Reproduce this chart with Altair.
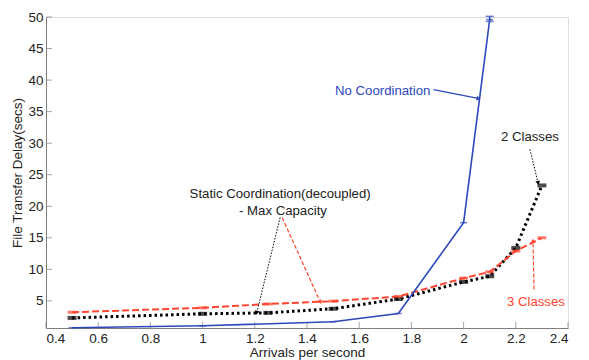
import math
import altair as alt
import pandas as pd

# ---- data ----
x_blue = [0.5, 1.0, 1.5, 1.75, 2.0, 2.1]
y_blue = [0.75, 1.05, 1.7, 3.0, 17.4, 49.6]
x_cls = [0.5, 1.0, 1.25, 1.5, 1.75, 2.0, 2.1, 2.2, 2.3]
y_two = [2.3, 2.95, 3.1, 3.75, 5.3, 8.0, 8.9, 13.4, 23.3]
y_three = [3.2, 3.9, 4.5, 4.95, 5.7, 8.6, 9.6, 12.9, 15.0]
err_x = [2.1]
err_lo = [49.3]
err_hi = [50.1]

x_ticks = [0.4, 0.6, 0.8, 1.0, 1.2, 1.4, 1.6, 1.8, 2.0, 2.2, 2.4]
y_ticks = [5, 10, 15, 20, 25, 30, 35, 40, 45, 50]

# annotations (data coords)
txt_label = ["No Coordination", "2 Classes", "Static Coordination(decoupled)", "- Max Capacity", "3 Classes"]
txt_x = [1.69, 2.254, 1.297, 1.308, 2.277]
txt_y = [38.3, 30.9, 21.9, 19.2, 4.9]
txt_group = ["blue", "black", "black", "black", "red"]

arr_x1 = [1.885, 2.254, 1.297, 1.305, 2.270]
arr_y1 = [38.5, 29.0, 18.2, 18.2, 6.8]
arr_x2 = [2.055, 2.285, 1.208, 1.45, 2.266]
arr_y2 = [37.1, 23.8, 3.2, 4.9, 14.4]
arr_group = ["blue", "black_dot", "black_dot", "red_dash", "red_dash"]

W, H = 522, 311
XD = [0.4, 2.4]
YD = [0.7, 50]
BLUE = "#2b48bb"
RED = "#ff4530"
AXC = "#7f7f7f"
FONT = "Liberation Sans"

pxx = W / (XD[1] - XD[0])
pxy = H / (YD[1] - YD[0])

xs = alt.Scale(domain=XD, nice=False, zero=False)
ys = alt.Scale(domain=YD, nice=False, zero=False)

blue_df = pd.DataFrame({"x": x_blue, "y": y_blue})
cls_df = pd.DataFrame({"x": x_cls, "two": y_two, "three": y_three})
err_df = pd.DataFrame({"x": err_x, "lo": err_lo, "hi": err_hi})
txt_df = pd.DataFrame({"label": txt_label, "x": txt_x, "y": txt_y, "g": txt_group})
arr_df = pd.DataFrame({"x1": arr_x1, "y1": arr_y1, "x2": arr_x2, "y2": arr_y2, "g": arr_group})
arr_df["angle"] = [
    (math.degrees(math.atan2((b - a) * pxx, (d - c) * pxy)) + 360) % 360
    for a, b, c, d in zip(arr_df.x1, arr_df.x2, arr_df.y1, arr_df.y2)
]

X_AX = alt.Axis(values=x_ticks, format="~g", grid=False, domainColor=AXC,
                ticks=False, labelPadding=3, labelFontSize=13.5,
                labelColor="#222", titleFontSize=13.5, titleColor="#222",
                titleFontWeight="normal", labelOverlap=False,
                titlePadding=1, labelFont=FONT, titleFont=FONT)
Y_AX = alt.Axis(values=y_ticks, grid=False, domainColor=AXC, ticks=False,
                labelPadding=3, labelFontSize=13.5, labelColor="#222",
                titleFontSize=13.5, titleColor="#222", titlePadding=3,
                titleFontWeight="normal", labelOverlap=False,
                labelFont=FONT, titleFont=FONT)


def XQ(f):
    return alt.X(f, scale=xs, axis=X_AX, title="Arrivals per second")


def YQ(f):
    return alt.Y(f, scale=ys, axis=Y_AX, title="File Transfer Delay(secs)")


base = alt.Chart(cls_df)

# inward ticks
xt = alt.Chart(pd.DataFrame({"v": x_ticks})).mark_tick(
    orient="vertical", color=AXC, size=6, thickness=1, yOffset=-3
).encode(x=XQ("v:Q"), y=alt.value(H))
yt = alt.Chart(pd.DataFrame({"v": y_ticks})).mark_tick(
    orient="horizontal", color=AXC, size=6, thickness=1, xOffset=3
).encode(y=YQ("v:Q"), x=alt.value(0))

line_two = base.mark_line(color="black", strokeWidth=3, strokeDash=[2.5, 3]).encode(
    x=XQ("x:Q"), y=YQ("two:Q"))
mk_two = base.mark_tick(color="black", orient="horizontal", size=9, thickness=4).encode(
    x=XQ("x:Q"), y=YQ("two:Q"))
line_three = base.mark_line(color=RED, strokeWidth=2, strokeDash=[7, 3]).encode(
    x=XQ("x:Q"), y=YQ("three:Q"))
mk_three = base.mark_tick(color=RED, orient="horizontal", size=9, thickness=3).encode(
    x=XQ("x:Q"), y=YQ("three:Q"))

bl = alt.Chart(blue_df)
line_blue = bl.mark_line(color=BLUE, strokeWidth=1.6).encode(
    x=XQ("x:Q"), y=YQ("y:Q"))
mk_blue = bl.mark_tick(color=BLUE, orient="horizontal", size=7, thickness=1.5).encode(
    x=XQ("x:Q"), y=YQ("y:Q"))

ec = alt.Chart(err_df)
err_rule = ec.mark_rule(color=BLUE, strokeWidth=1.5).encode(
    x=XQ("x:Q"), y=YQ("lo:Q"), y2="hi:Q")
err_cap_hi = ec.mark_tick(color=BLUE, orient="horizontal", size=8, thickness=1.5).encode(
    x=XQ("x:Q"), y=YQ("hi:Q"))
err_cap_lo = ec.mark_tick(color=BLUE, orient="horizontal", size=8, thickness=1.5).encode(
    x=XQ("x:Q"), y=YQ("lo:Q"))

ac = alt.Chart(arr_df)
arr_layers = []
styles = {
    "blue": dict(color=BLUE, strokeWidth=1.3),
    "black_dot": dict(color="black", strokeWidth=1, strokeDash=[1.5, 1.5]),
    "red_dash": dict(color=RED, strokeWidth=1.2, strokeDash=[4, 2]),
}
for g, st in styles.items():
    sub = ac.transform_filter(alt.datum.g == g)
    arr_layers.append(sub.mark_rule(**st).encode(
        x=XQ("x1:Q"), y=YQ("y1:Q"), x2="x2:Q", y2="y2:Q"))
    arr_layers.append(sub.mark_point(shape="triangle", filled=True, size=22,
                                     color=st["color"], opacity=1).encode(
        x=XQ("x2:Q"), y=YQ("y2:Q"),
        angle=alt.Angle("angle:Q", scale=None)))

tc = alt.Chart(txt_df)
txt = tc.mark_text(font=FONT, fontSize=13.2).encode(
    x=XQ("x:Q"), y=YQ("y:Q"), text="label:N",
    color=alt.Color("g:N", scale=alt.Scale(domain=["blue", "black", "red"],
                                           range=[BLUE, "#222222", RED]), legend=None))

chart = alt.layer(
    line_two, xt, yt, line_three, line_blue, mk_two, mk_three, mk_blue,
    err_rule, err_cap_hi, err_cap_lo, *arr_layers, txt
).properties(
    width=W, height=H,
    padding={"left": 38, "top": 9, "right": 10, "bottom": 33},
    autosize=alt.AutoSizeParams(type="none"),
).configure_view(stroke=None).configure_axis(labelOverlap=False).configure(background="white")

chart.save("out.html", embed_options={"renderer": "svg", "actions": False})
